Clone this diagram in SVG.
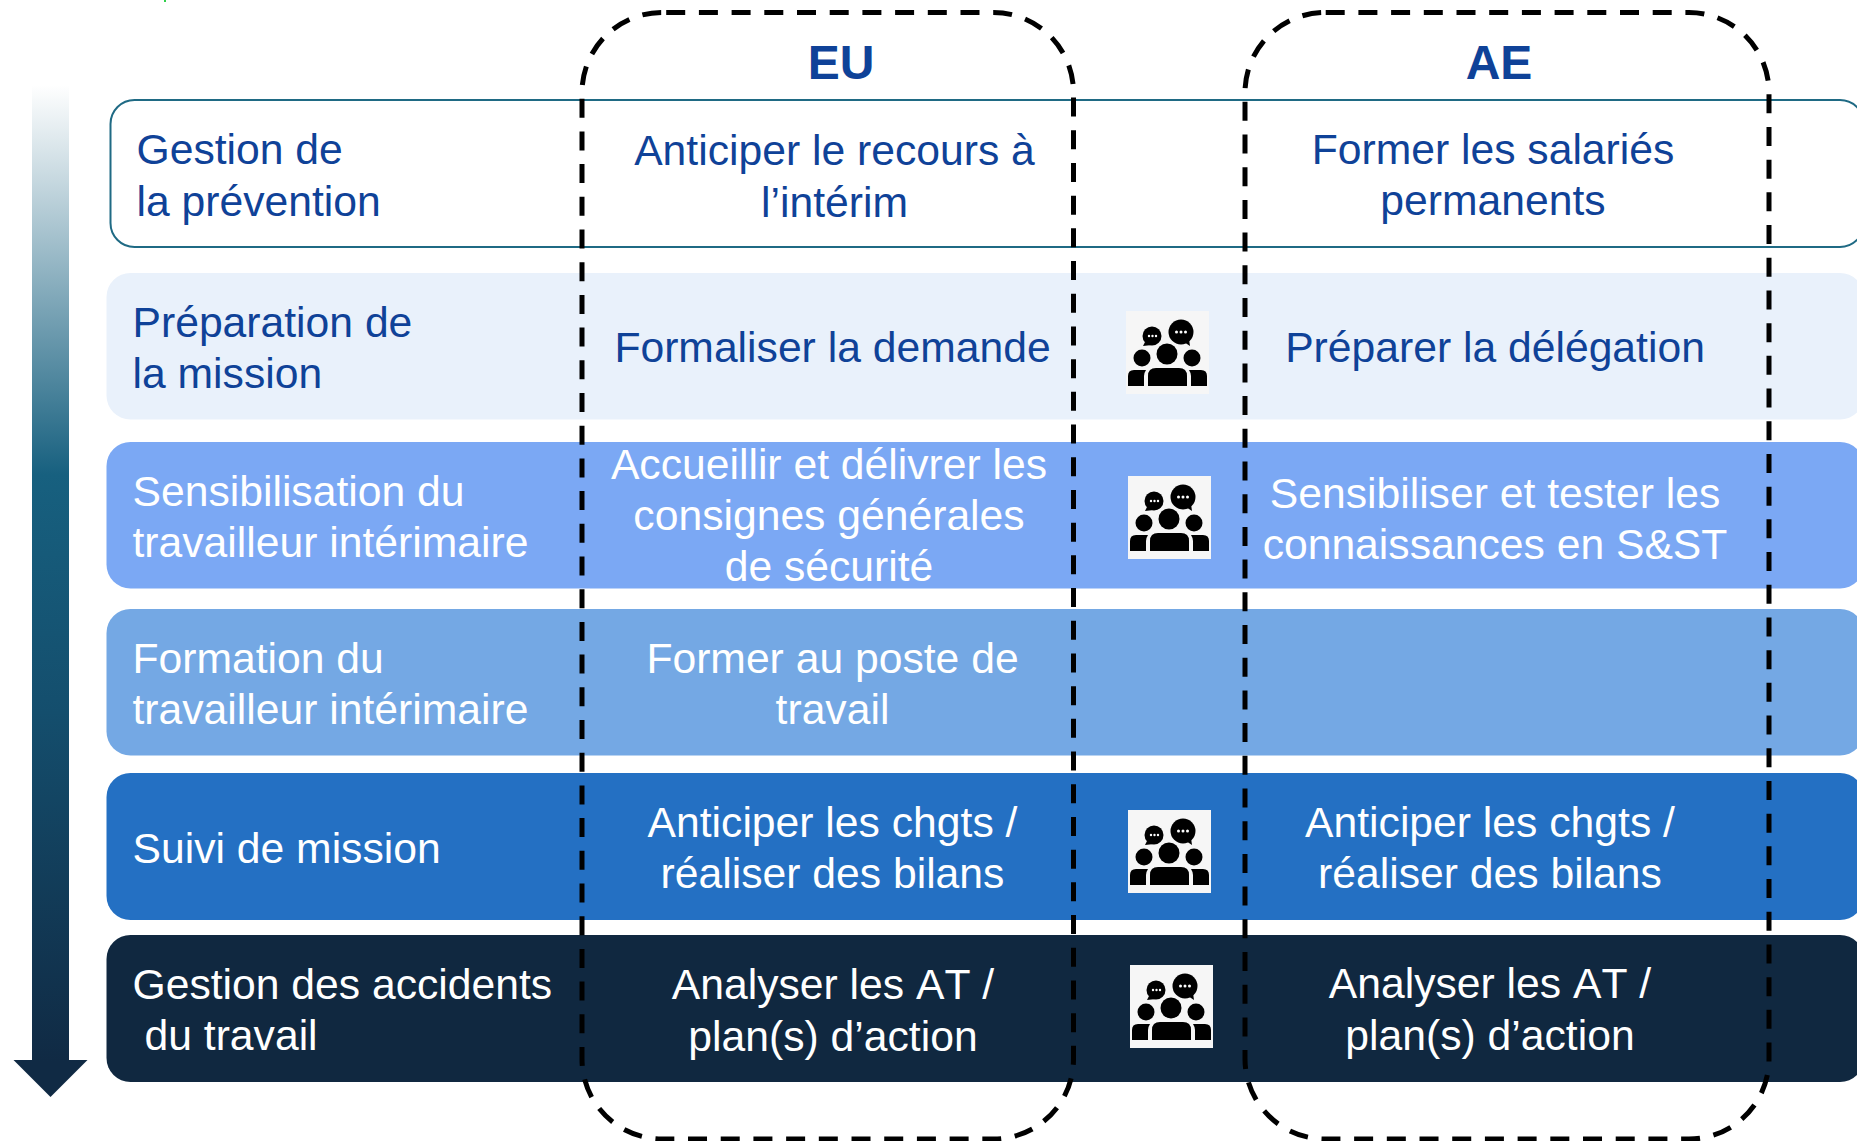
<svg xmlns="http://www.w3.org/2000/svg" xmlns:xlink="http://www.w3.org/1999/xlink" width="1857" height="1141" viewBox="0 0 1857 1141">
<style>
text{font-family:"Liberation Sans",Arial,sans-serif;font-size:42.67px}
.b{fill:#0f4298}.w{fill:#fff}.m{text-anchor:middle}
.nk{font-kerning:none}
.h{font-weight:bold;font-size:48px}
.d{fill:none;stroke:#000;stroke-width:5;stroke-dasharray:19 13.7}
</style>
<defs>
<linearGradient id="ag" x1="0" y1="85" x2="0" y2="1097" gradientUnits="userSpaceOnUse">
<stop offset="0" stop-color="#fff"/><stop offset="0.385" stop-color="#17607f"/><stop offset="0.62" stop-color="#144e6d"/><stop offset="0.965" stop-color="#102a44"/><stop offset="1" stop-color="#102a44"/>
</linearGradient>
<symbol id="people" viewBox="0 0 83 83" width="83" height="83">
<rect width="83" height="83" fill="#f6f6f6"/>
<g fill="#000">
<circle cx="26" cy="25" r="9.5"/><path d="M19 31l-2 4 9-1z"/>
<circle cx="55" cy="21" r="12.5"/><path d="M58 31l6 4-1-7z"/>
<circle cx="41" cy="43" r="10.5"/><circle cx="16" cy="47" r="8.5"/><circle cx="66" cy="47" r="8.5"/>
<path d="M22 75V65q0-8 8-8h23q8 0 8 8v10z"/>
<path d="M2 75V65q0-6 6-6h12q-2 3-2 6v10z"/><path d="M81 75V65q0-6-6-6H63q2 3 2 6v10z"/>
</g>
<g fill="#fff"><circle cx="23" cy="25" r="1.2"/><circle cx="26.500" cy="25" r="1.2"/><circle cx="30" cy="25" r="1.2"/><circle cx="50.500" cy="21" r="1.500"/><circle cx="55" cy="21" r="1.500"/><circle cx="59.500" cy="21" r="1.500"/></g>
</symbol>
</defs>
<rect id="green-mark" x="164" y="0" width="2" height="2" fill="#2fd04a"/>
<g id="arrow"><path d="M32 85H69V1060H87.500L50.500 1097L13.500 1060H32Z" fill="url(#ag)"/></g>
<g id="row-prevention"><rect x="110.500" y="100" width="1753.500" height="147" rx="24" fill="#fff" stroke="#1f6a84" stroke-width="2"/>
<text class="b" x="136.500" y="164">Gestion de</text><text class="b" x="136.500" y="216">la prévention</text>
<text class="b m" x="834.500" y="165">Anticiper le recours à</text><text class="b m" x="834.500" y="217">l’intérim</text>
<text class="b m" x="1493" y="164">Former les salariés</text><text class="b m" x="1493" y="215">permanents</text></g>
<g id="row-preparation"><rect x="106.500" y="273" width="1757.500" height="146.500" rx="24" fill="#e9f1fb"/>
<text class="b" x="132.500" y="337">Préparation de</text><text class="b" x="132.500" y="388">la mission</text>
<text class="b m" x="832.500" y="362">Formaliser la demande</text><text class="b m" x="1495" y="362">Préparer la délégation</text>
<use xlink:href="#people" href="#people" x="1126" y="311"/></g>
<g id="row-sensibilisation"><rect x="106.500" y="442" width="1757.500" height="146.500" rx="24" fill="#7ba8f4"/>
<text class="w" x="132.500" y="506">Sensibilisation du</text><text class="w" x="132.500" y="557">travailleur intérimaire</text>
<text class="w m" x="829" y="479">Accueillir et délivrer les</text><text class="w m" x="829" y="530">consignes générales</text><text class="w m" x="829" y="581">de sécurité</text>
<text class="w m" x="1495" y="508">Sensibiliser et tester les</text><text class="w m" x="1495" y="559">connaissances en S&amp;ST</text>
<use xlink:href="#people" href="#people" x="1128" y="476"/></g>
<g id="row-formation"><rect x="106.500" y="609" width="1757.500" height="146.500" rx="24" fill="#74a8e4"/>
<text class="w" x="132.500" y="673">Formation du</text><text class="w" x="132.500" y="724">travailleur intérimaire</text>
<text class="w m" x="832.500" y="673">Former au poste de</text><text class="w m" x="832.500" y="724">travail</text></g>
<g id="row-suivi"><rect x="106.500" y="773" width="1757.500" height="147" rx="24" fill="#2470c3"/>
<text class="w" x="132.500" y="863">Suivi de mission</text>
<text class="w m" x="832.500" y="837">Anticiper les chgts /</text><text class="w m" x="832.500" y="888">réaliser des bilans</text>
<text class="w m" x="1490" y="837">Anticiper les chgts /</text><text class="w m" x="1490" y="888">réaliser des bilans</text>
<use xlink:href="#people" href="#people" x="1128" y="810"/></g>
<g id="row-accidents"><rect x="106.500" y="935" width="1757.500" height="147" rx="24" fill="#102840"/>
<text class="w" x="132.500" y="999">Gestion des accidents</text><text class="w" x="144.500" y="1050">du travail</text>
<text class="w m nk" x="833" y="999">Analyser les AT /</text><text class="w m" x="833" y="1051">plan(s) d’action</text>
<text class="w m nk" x="1490" y="998">Analyser les AT /</text><text class="w m" x="1490" y="1050">plan(s) d’action</text>
<use xlink:href="#people" href="#people" x="1130" y="965"/></g>
<g id="column-eu"><rect class="d" x="582" y="12.500" width="491.500" height="1126.500" rx="80" stroke-dashoffset="-4.200"/><text class="b h m" x="841" y="79">EU</text></g>
<g id="column-ae"><rect class="d" x="1245" y="12.500" width="524" height="1126.500" rx="80" stroke-dashoffset="-0.700"/><text class="b h m" x="1499" y="79">AE</text></g>
</svg>
